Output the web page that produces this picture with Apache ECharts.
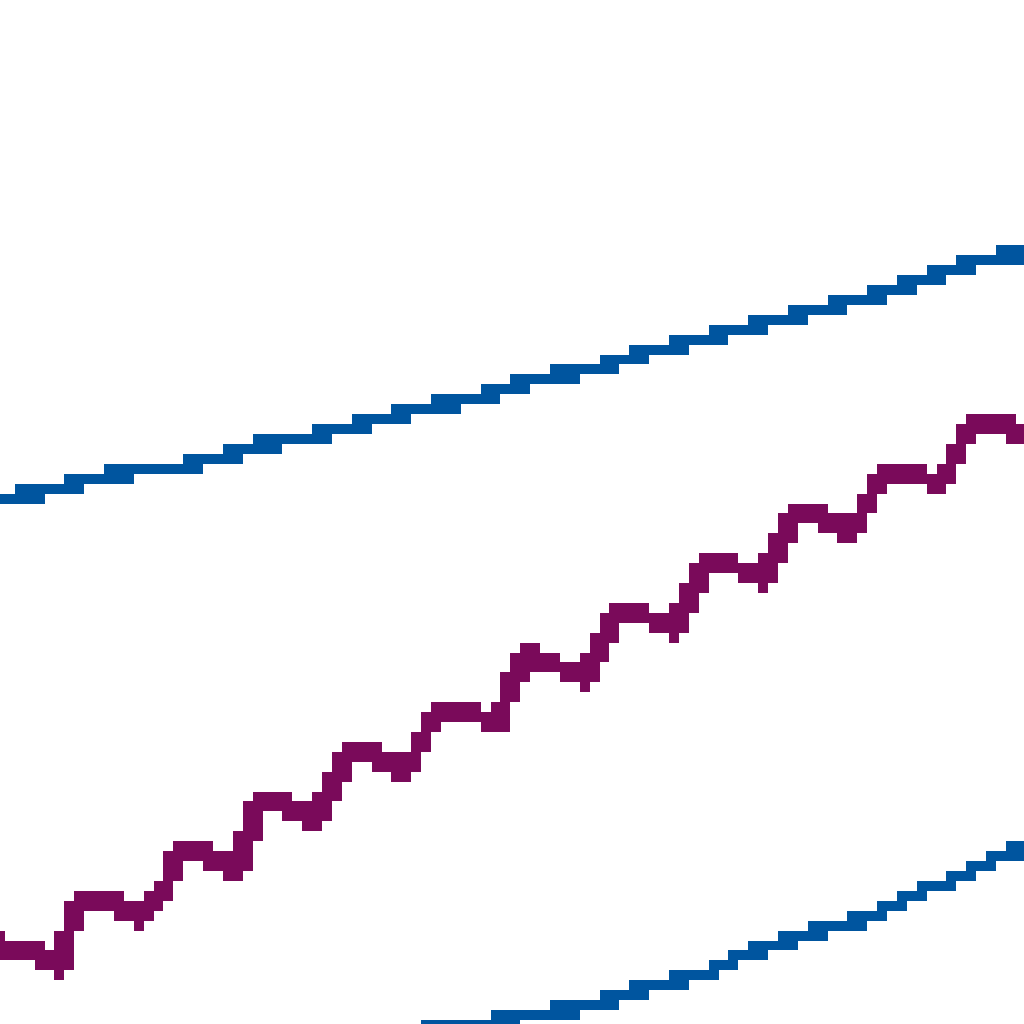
<!DOCTYPE html>
<html>
<head>
<meta charset="utf-8">
<script src="https://cdn.jsdelivr.net/npm/echarts@6/dist/echarts.min.js"></script>
<style>
  html, body { margin: 0; padding: 0; background: #ffffff; overflow: hidden; width: 1024px; height: 1024px; }
  #chart { position: absolute; left: -4.91px; top: -3.3px; width: 104px; height: 104px;
           transform: scale(9.911, 9.932); transform-origin: 0 0; }
  #chart canvas { image-rendering: pixelated; }
</style>
</head>
<body>
<div id="chart"></div>
<script>
// One value per column of the low-resolution picture
const upperBlueStart = 0;
const upperBlue = [53.5,53.5,53.5,54,54,54.5,54.5,55,55,55.5,55.5,55.5,56,56,56,56.5,56.5,56.5,56.5,57,
  57.5,57.5,57.5,57.5,58,58,58.5,59,59,59.5,59.5,59.5,60,60,60.5,60.5,61,61,61.5,61.5,
  61.5,62,62.5,62.5,63,63,63.5,63.5,63.5,64,64.5,64.5,64.5,64.5,65.5,65.5,65.5,66,66.5,66.5,
  66.5,67,67,67.5,68,68,68.5,68.5,68.5,69,69.5,69.5,70,70.5,70.5,70.5,71,71,71.5,71.5,
  71.5,72,72.5,72.5,73,73.5,73.5,73.5,74,74.5,74.5,75,75.5,75.5,75.5,76,76.5,76.5,76.5,77.5,
  77.5,77.5,78,78];

const purpleStart = 0;
const purple = [8.5,9,8,8,7,6.5,6.5,7,13,13.5,13.5,13,12.5,12,11.5,11.5,11.5,14.75,18,18.5,
  18,17.5,16.5,16,16,16,23,23,23,22.5,22,21.5,21,21,21,28,28,28,27.5,27,
  26.5,26,26,26,32,32.5,33,32.5,31.5,31,30.5,30.5,31,38,37.5,38,37,36.5,36,35,
  35,35,42,42,42,42,41,41,40,40,41,47,47,47,47,46,45.5,45,45,45,
  52,52,52,51.5,51,50,50,50,50,56,56,57,56,55.5,55,55,55,55,61,61,
  61.5,61.5,61,60];

const lowerBlueStart = 42;
const lowerBlue = [-0.5,0.5,0.5,0.5,0.5,0.5,0.5,0.5,1,1,1,1.5,1.5,1.5,2,2,2.5,2.5,2.5,3,
  3,3.5,3.5,4,4.5,4.5,5,5,5.5,6,6,6.5,7,7.5,7.5,8,8.5,9,9,9.5,
  10,10,10.5,10.5,10.5,11,11.5,12,12.5,13,13,14,14,14.5,15,15.5,16,16.5,16.5,17,
  18,18];

const BLUE = '#00559F';
const PURPLE = '#7A0A5A';

function pairs(start, vals) { return vals.map((v, i) => [start + i + 0.5, v]); }

const chart = echarts.init(document.getElementById('chart'), null,
  { renderer: 'canvas', devicePixelRatio: 1, width: 104, height: 104 });

const lineBase = { type: 'line', symbol: 'none', silent: true, animation: false, clip: true };

chart.setOption({
  backgroundColor: 'rgba(0,0,0,0)',
  animation: false,
  grid: { left: 0, right: 0, top: 0, bottom: 0 },
  xAxis: { type: 'value', min: 0, max: 104, show: false },
  yAxis: { type: 'value', min: 0, max: 104, show: false },
  series: [
    Object.assign({}, lineBase, { name: 'upper', data: pairs(upperBlueStart, upperBlue),
      lineStyle: { color: BLUE, width: 1.5, join: 'round', cap: 'square' } }),
    Object.assign({}, lineBase, { name: 'purple', data: pairs(purpleStart, purple),
      lineStyle: { color: PURPLE, width: 2.1, join: 'round', cap: 'square' } }),
    Object.assign({}, lineBase, { name: 'lower', data: pairs(lowerBlueStart, lowerBlue),
      lineStyle: { color: BLUE, width: 1.5, join: 'round', cap: 'square' } })
  ]
});

function hexRgb(h) { return [parseInt(h.substr(1,2),16), parseInt(h.substr(3,2),16), parseInt(h.substr(5,2),16)]; }
const palette = [hexRgb(BLUE), hexRgb(PURPLE)];

// keep the low-resolution picture crisp: every pixel either fully coloured or empty
function crisp() {
  const c = document.querySelector('#chart canvas');
  if (!c) return;
  const ctx = c.getContext('2d');
  const img = ctx.getImageData(0, 0, c.width, c.height);
  const d = img.data;
  for (let i = 0; i < d.length; i += 4) {
    if (d[i + 3] >= 128) {
      let best = 0, bd = Infinity;
      palette.forEach((p, k) => {
        const dd = (d[i]-p[0])**2 + (d[i+1]-p[1])**2 + (d[i+2]-p[2])**2;
        if (dd < bd) { bd = dd; best = k; }
      });
      const p = palette[best];
      d[i] = p[0]; d[i+1] = p[1]; d[i+2] = p[2]; d[i+3] = 255;
    } else { d[i] = 0; d[i+1] = 0; d[i+2] = 0; d[i+3] = 0; }
  }
  ctx.putImageData(img, 0, 0);
}
chart.on('finished', crisp);
setTimeout(crisp, 100);
</script>
</body>
</html>
